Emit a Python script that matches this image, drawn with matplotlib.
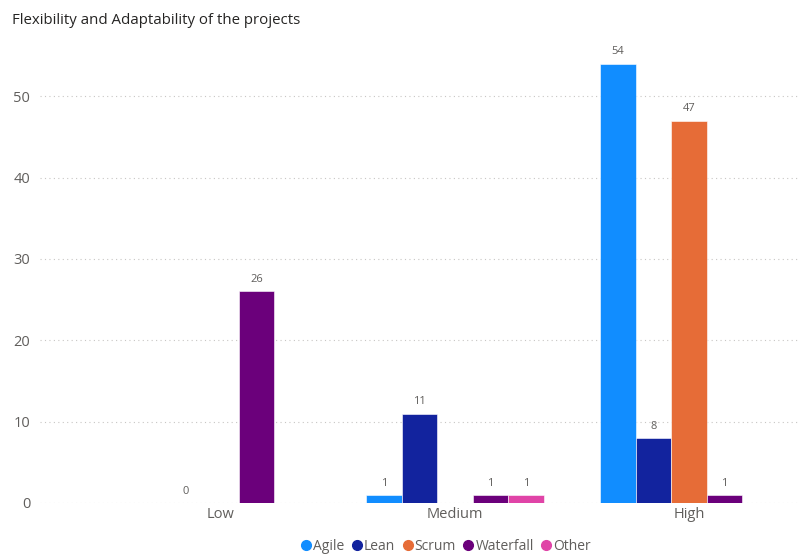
import numpy as np
import matplotlib.pyplot as plt
from matplotlib.lines import Line2D

categories = ['Low', 'Medium', 'High']
series = ['Agile', 'Lean', 'Scrum', 'Waterfall', 'Other']
agile = [np.nan, 1, 54]
lean = [0, 11, 8]
scrum = [np.nan, np.nan, 47]
waterfall = [26, 1, 1]
other = [np.nan, 1, np.nan]
values = [agile, lean, scrum, waterfall, other]
colors = ['#118DFF', '#12239E', '#E66C37', '#6B007B', '#E044A7']

plt.rcParams['font.family'] = ['Open Sans', 'DejaVu Sans']

fig = plt.figure(figsize=(8.01, 5.55), dpi=100)
ax = fig.add_axes([40 / 801, 52 / 555, 760 / 801, 480 / 555])

x = np.arange(len(categories))
w = 0.1517
for i, (name, vals, c) in enumerate(zip(series, values, colors)):
    pos = x + (i - 2) * w
    v = np.array(vals, dtype=float)
    ax.bar(pos, np.nan_to_num(v), width=w, color=c, edgecolor='white', linewidth=0.4, label=name)
    for px, val in zip(pos, v):
        if not np.isnan(val):
            ax.annotate('%d' % val, (px, val), xytext=(0, 4.5), textcoords='offset points',
                        ha='center', va='bottom', fontsize=8, color='#605E5C')

ax.set_xlim(-0.773, 2.474)
ax.set_ylim(0, 59)
ax.set_yticks(range(0, 60, 10))
ax.set_xticks(x)
ax.set_xticklabels(categories)
ax.tick_params(axis='both', length=0, labelsize=10.5, labelcolor='#605E5C')
ax.tick_params(axis='y', pad=7)
ax.tick_params(axis='x', pad=3)
ax.grid(axis='y', color='#C8C6C4', linestyle=(0, (1, 3)), linewidth=0.8)
ax.set_axisbelow(True)
for s in ax.spines.values():
    s.set_visible(False)

fig.text(12 / 801, 1 - 20 / 555, 'Flexibility and Adaptability of the projects',
         fontsize=10.8, color='#252423', va='center', ha='left')

handles = [Line2D([], [], marker='o', linestyle='', color=c, markersize=7) for c in colors]
fig.legend(handles, series, loc='center', bbox_to_anchor=(445 / 801, 1 - 546 / 555), ncol=5,
           frameon=False, fontsize=10, handletextpad=0.0, columnspacing=0.4,
           handlelength=1.0, labelcolor='#605E5C')

fig.savefig('out.png', dpi=100)
